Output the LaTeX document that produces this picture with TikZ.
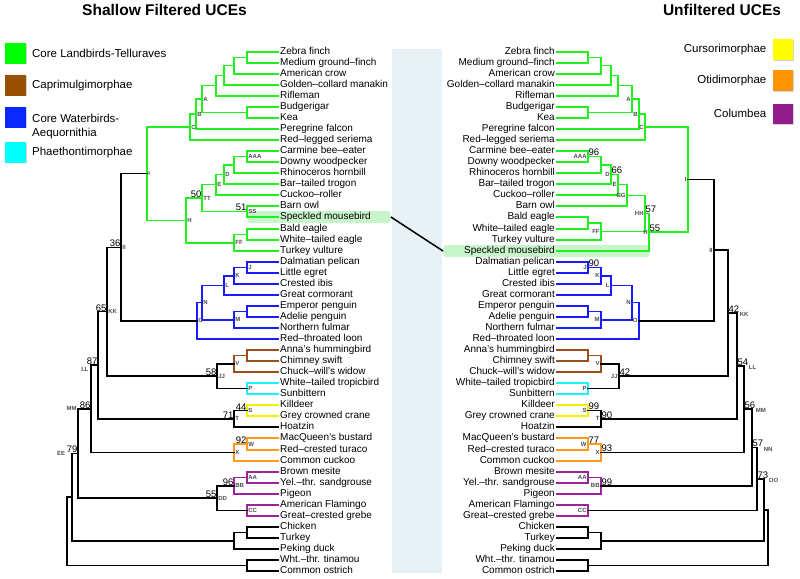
\documentclass[tikz,border=0pt]{standalone}
\usepackage{fontspec}
\setmainfont{Liberation Sans}
\usetikzlibrary{calc,positioning,shadows}
\definecolor{tgreen}{HTML}{1FF01F}
\definecolor{tbrown}{HTML}{9A4F1C}
\definecolor{tblue}{HTML}{1A1AFF}
\definecolor{tcyan}{HTML}{1AF2FF}
\definecolor{tyellow}{HTML}{F2F200}
\definecolor{torange}{HTML}{FF9A1A}
\definecolor{tpurple}{HTML}{9E229E}
\definecolor{kgreen}{HTML}{00FF00}
\definecolor{kbrown}{HTML}{995000}
\definecolor{kblue}{HTML}{0A28FF}
\definecolor{kcyan}{HTML}{00FFFF}
\definecolor{kyellow}{HTML}{FFFF00}
\definecolor{korange}{HTML}{FF9400}
\definecolor{kpurple}{HTML}{931C8C}
\definecolor{panelbg}{HTML}{E8F1F5}
\definecolor{hlgreen}{HTML}{C9F5CB}

\newcommand{\clade}[5][black]{%
  \path let \p1=(#4), \p2=(#5) in coordinate (#2) at (#3pt,{(\y1+\y2)/2});
  \draw[branch,#1] (#4) -| (#2) |- (#5);}

\def\shallowtaxa{Zebra finch,Medium ground--finch,American crow,Golden--collard manakin,Rifleman,Budgerigar,Kea,Peregrine falcon,Red--legged seriema,Carmine bee--eater,Downy woodpecker,Rhinoceros hornbill,Bar--tailed trogon,Cuckoo--roller,Barn owl,Speckled mousebird,Bald eagle,White--tailed eagle,Turkey vulture,Dalmatian pelican,Little egret,Crested ibis,Great cormorant,Emperor penguin,Adelie penguin,Northern fulmar,Red--throated loon,Anna's hummingbird,Chimney swift,Chuck--will's widow,White--tailed tropicbird,Sunbittern,Killdeer,Grey crowned crane,Hoatzin,MacQueen's bustard,Red--crested turaco,Common cuckoo,Brown mesite,Yel.--thr. sandgrouse,Pigeon,American Flamingo,Great--crested grebe,Chicken,Turkey,Peking duck,Wht.--thr. tinamou,Common ostrich}
\def\unfilteredtaxa{Zebra finch,Medium ground--finch,American crow,Golden--collard manakin,Rifleman,Budgerigar,Kea,Peregrine falcon,Red--legged seriema,Carmine bee--eater,Downy woodpecker,Rhinoceros hornbill,Bar--tailed trogon,Cuckoo--roller,Barn owl,Bald eagle,White--tailed eagle,Turkey vulture,Speckled mousebird,Dalmatian pelican,Little egret,Crested ibis,Great cormorant,Emperor penguin,Adelie penguin,Northern fulmar,Red--throated loon,Anna's hummingbird,Chimney swift,Chuck--will's widow,White--tailed tropicbird,Sunbittern,Killdeer,Grey crowned crane,Hoatzin,MacQueen's bustard,Red--crested turaco,Common cuckoo,Brown mesite,Yel.--thr. sandgrouse,Pigeon,American Flamingo,Great--crested grebe,Chicken,Turkey,Peking duck,Wht.--thr. tinamou,Common ostrich}

\begin{document}
\begin{tikzpicture}[x=1pt,y=-1pt,
  branch/.style={line width=1.5pt,line cap=rect},
  leaf/.style={font=\fontsize{10}{12}\selectfont,inner xsep=2pt,inner ysep=0pt,text height=7.2pt,text depth=2pt},
  nlab/.style={font=\fontsize{6}{7}\selectfont\bfseries,text=black!70,inner sep=1.2pt},
  boot/.style={font=\fontsize{9.5}{10}\selectfont,inner sep=0.3pt},
  ttl/.style={font=\fontsize{15.5}{18}\selectfont\bfseries},
  legbox/.style={minimum size=20.5,inner sep=0,drop shadow={shadow xshift=0.8pt,shadow yshift=-0.8pt,opacity=0.35}},
  legtext/.style={font=\fontsize{11.5}{14}\selectfont,inner sep=2pt},
  hilite/.style={fill=hlgreen,rounded corners=3pt,inner sep=0,minimum height=12}]
  \useasboundingbox (0,0) rectangle (800,578);
  \fill[panelbg] (392,49) rectangle (442,573);
  \node[hilite,anchor=west,minimum width=143] (hlS) at (247.5,217) {};
  \node[hilite,anchor=west,minimum width=206.5] (hlU) at (443,251) {};
  \draw[line width=1.5pt] (hlS.east) -- (hlU.west);

  \node[ttl] (ttlS) at (164.5,9.7) {Shallow Filtered UCEs};
  \node[ttl] (ttlU) at (722,9.7) {Unfiltered UCEs};

  \node[legbox,fill=kgreen] (kland) at (15.5,53.3) {};
  \node[legtext,right=4pt of kland] (tland) {Core Landbirds-Telluraves};
  \node[legbox,fill=kbrown] (kcapr) at (15.5,85.3) {};
  \node[legtext,right=4pt of kcapr] (tcapr) {Caprimulgimorphae};
  \node[legbox,fill=kblue] (kwater) at (15.5,117.3) {};
  \node[legtext,align=left,anchor=north west] (twater) at (30,112) {Core Waterbirds-\\Aequornithia};
  \node[legbox,fill=kcyan] (kphae) at (15.5,152.3) {};
  \node[legtext,right=4pt of kphae] (tphae) {Phaethontimorphae};
  \node[legbox,fill=kyellow] (kcurs) at (783,49.7) {};
  \node[legtext,left=4pt of kcurs] (tcurs) {Cursorimorphae};
  \node[legbox,fill=korange] (kotid) at (783,80.5) {};
  \node[legtext,left=4pt of kotid] (totid) {Otidimorphae};
  \node[legbox,fill=kpurple] (kcolu) at (783,113.8) {};
  \node[legtext,left=4pt of kcolu] (tcolu) {Columbea};

  \foreach \taxon [count=\i] in \shallowtaxa
    \node[leaf,anchor=west] (s\i) at (278,{round(51.7+(\i-1)*11.05)}) {\taxon};
  \foreach \taxon [count=\i] in \unfilteredtaxa
    \node[leaf,anchor=east] (u\i) at (557,{round(51.7+(\i-1)*11.05)}) {\taxon};

  \clade[tgreen]{sn1}{247}{s1}{s2}
  \clade[tgreen]{sn2}{234}{sn1}{s3}
  \clade[tgreen]{sn3}{224}{sn2}{s4}
  \clade[tgreen]{sn4}{216}{sn3}{s5}
  \clade[tgreen]{sn5}{247}{s6}{s7}
  \clade[tgreen]{sA}{202}{sn4}{sn5}
  \clade[tgreen]{sB}{196}{sA}{s8}
  \clade[tgreen]{sC}{190}{sB}{s9}
  \clade[tgreen]{sAAA}{247}{s10}{s11}
  \clade[tgreen]{sn6}{234}{sAAA}{s12}
  \clade[tgreen]{sD}{224}{sn6}{s13}
  \clade[tgreen]{sE}{216}{sD}{s14}
  \clade[tgreen]{sSS}{247}{s15}{s16}
  \clade[tgreen]{sTT}{202}{sE}{sSS}
  \clade[tgreen]{sn7}{247}{s17}{s18}
  \clade[tgreen]{sFF}{234}{sn7}{s19}
  \clade[tgreen]{sH}{186}{sTT}{sFF}
  \clade[tgreen]{sI}{147}{sC}{sH}
  \clade[tblue]{sJ}{247}{s20}{s21}
  \clade[tblue]{sK}{234}{sJ}{s22}
  \clade[tblue]{sL}{224}{sK}{s23}
  \clade[tblue]{sn8}{247}{s24}{s25}
  \clade[tblue]{sM}{234}{sn8}{s26}
  \clade[tblue]{sN}{202}{sL}{sM}
  \clade[tblue]{sO}{197}{sN}{s27}
  \clade{sII}{121}{sI}{sO}
  \clade[tbrown]{sn9}{247}{s28}{s29}
  \clade[tbrown]{sV}{234}{sn9}{s30}
  \clade[tcyan]{sP}{247}{s31}{s32}
  \clade{sJJ}{217}{sV}{sP}
  \clade{sKK}{107}{sII}{sJJ}
  \clade[tyellow]{sS}{247}{s33}{s34}
  \clade{sT}{234}{sS}{s35}
  \clade{sLL}{98}{sKK}{sT}
  \clade[torange]{sW}{247}{s36}{s37}
  \clade[torange]{sX}{234}{sW}{s38}
  \clade{sMM}{91}{sLL}{sX}
  \clade[tpurple]{sAA}{247}{s39}{s40}
  \clade[tpurple]{sBB}{234}{sAA}{s41}
  \clade[tpurple]{sCC}{247}{s42}{s43}
  \clade{sDD}{217}{sBB}{sCC}
  \clade{sEE}{78}{sMM}{sDD}
  \clade{sn10}{247}{s44}{s45}
  \clade{sn11}{234}{sn10}{s46}
  \clade{sn12}{72}{sEE}{sn11}
  \clade{sn13}{247}{s47}{s48}
  \clade{sroot}{67}{sn12}{sn13}

  \clade[tgreen]{un1}{588}{u1}{u2}
  \clade[tgreen]{un2}{601}{un1}{u3}
  \clade[tgreen]{un3}{611}{un2}{u4}
  \clade[tgreen]{un4}{618}{un3}{u5}
  \clade[tgreen]{un5}{588}{u6}{u7}
  \clade[tgreen]{uA}{632}{un4}{un5}
  \clade[tgreen]{uB}{639}{uA}{u8}
  \clade[tgreen]{uC}{645}{uB}{u9}
  \clade[tgreen]{uAAA}{588}{u10}{u11}
  \clade[tgreen]{un6}{601}{uAAA}{u12}
  \clade[tgreen]{uD}{611}{un6}{u13}
  \clade[tgreen]{uE}{618}{uD}{u14}
  \clade[tgreen]{uGG}{627}{uE}{u15}
  \clade[tgreen]{un7}{588}{u16}{u17}
  \clade[tgreen]{uFF}{601}{un7}{u18}
  \clade[tgreen]{uHH}{645}{uGG}{uFF}
  \clade[tgreen]{uH}{649}{uHH}{u19}
  \clade[tgreen]{uI}{688}{uC}{uH}
  \clade[tblue]{uJ}{588}{u20}{u21}
  \clade[tblue]{uK}{601}{uJ}{u22}
  \clade[tblue]{uL}{611}{uK}{u23}
  \clade[tblue]{un8}{588}{u24}{u25}
  \clade[tblue]{uM}{601}{un8}{u26}
  \clade[tblue]{uN}{632}{uL}{uM}
  \clade[tblue]{uO}{639}{uN}{u27}
  \clade{uII}{714}{uI}{uO}
  \clade[tbrown]{un9}{588}{u28}{u29}
  \clade[tbrown]{uV}{601}{un9}{u30}
  \clade[tcyan]{uP}{588}{u31}{u32}
  \clade{uJJ}{619}{uV}{uP}
  \clade{uKK}{728}{uII}{uJJ}
  \clade[tyellow]{uS}{588}{u33}{u34}
  \clade{uT}{601}{uS}{u35}
  \clade{uLL}{737}{uKK}{uT}
  \clade[torange]{uW}{588}{u36}{u37}
  \clade[torange]{uX}{601}{uW}{u38}
  \clade{uMM}{744}{uLL}{uX}
  \clade[tpurple]{uAA}{588}{u39}{u40}
  \clade[tpurple]{uBB}{601}{uAA}{u41}
  \clade{uNN}{752}{uMM}{uBB}
  \clade[tpurple]{uCC}{588}{u42}{u43}
  \clade{uOO}{757}{uNN}{uCC}
  \clade{un10}{588}{u44}{u45}
  \clade{un11}{601}{un10}{u46}
  \clade{un12}{764}{uOO}{un11}
  \clade{un13}{588}{u47}{u48}
  \clade{uroot}{768}{un12}{un13}

  \foreach \n in {A,B,C,AAA,D,E,TT,SS,H,FF,I,J,K,L,M,N,O,II,KK,V,JJ,P,S,T,W,X,AA,BB,DD,CC}
    \node[nlab,anchor=west] (sl\n) at (s\n) {\n};
  \node[nlab,anchor=east] (slLL) at ($(sLL)+(-8,4.5)$) {LL};
  \node[nlab,anchor=east] (slMM) at ($(sMM)+(-13,0)$) {MM};
  \node[nlab,anchor=east] (slEE) at ($(sEE)+(-11.5,0)$) {EE};
  \foreach \n/\v in {TT/50,SS/51,II/36,KK/65,LL/87,MM/86,EE/79,JJ/58,S/44,T/71,W/92,BB/96,DD/55}
    \node[boot,anchor=south east] (sb\n) at (s\n) {\v};

  \foreach \n in {A,B,C,AAA,D,E,GG,FF,HH,H,I,J,K,L,M,N,O,II,JJ,V,P,S,T,W,X,AA,BB,CC}
    \node[nlab,anchor=east] (ul\n) at (u\n) {\n};
  \foreach \n in {KK,LL,MM,NN,OO}
    \node[nlab,anchor=west] (ul\n) at ($(u\n)+(10.5,1.5)$) {\n};
  \foreach \n/\v in {AAA/96,D/66,HH/57,H/55,J/90,JJ/42,KK/42,LL/54,MM/56,NN/57,OO/73,S/99,T/90,W/77,X/93,BB/99}
    \node[boot,anchor=south west] (ub\n) at (u\n) {\v};
\end{tikzpicture}
\end{document}
